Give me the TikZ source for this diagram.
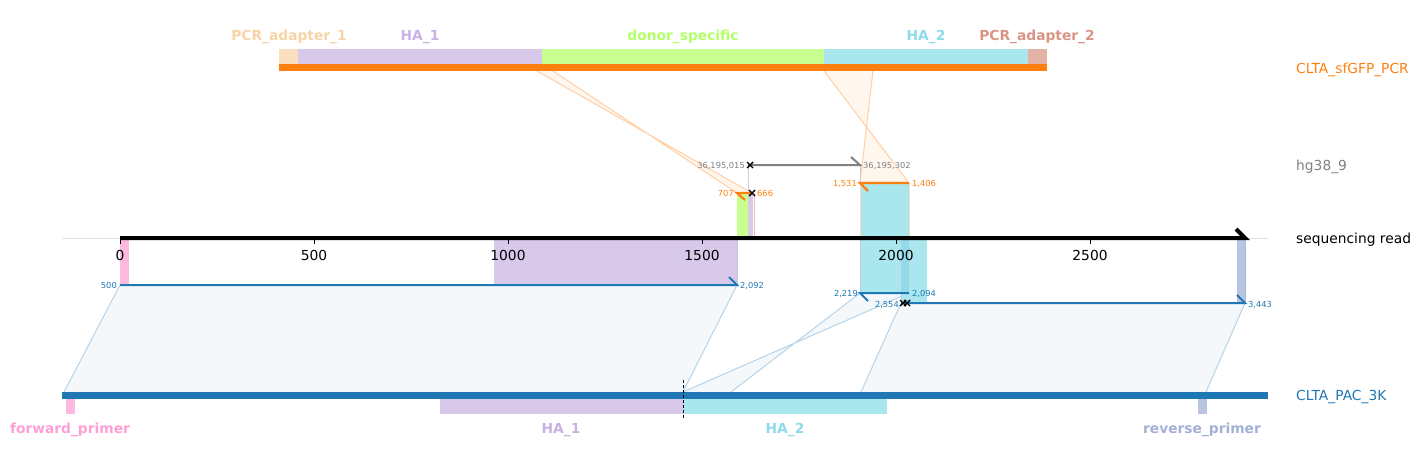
\documentclass[tikz,border=0pt]{standalone}
\usepackage{fontspec}
\setmainfont{DejaVu Sans}
\definecolor{orangeC}{HTML}{FF7F0E}
\definecolor{blueC}{HTML}{1F77B4}
\definecolor{grayC}{HTML}{808080}
\definecolor{adOneBar}{HTML}{FADFC1}
\definecolor{adOneTxt}{HTML}{F8D3A6}
\definecolor{haOneBar}{HTML}{D8C8EA}
\definecolor{haOneTxt}{HTML}{C6B2E4}
\definecolor{donBar}{HTML}{C8FF90}
\definecolor{donTxt}{HTML}{B2FF66}
\definecolor{haTwoBar}{HTML}{AAE6EE}
\definecolor{haTwoTxt}{HTML}{8CDBEB}
\definecolor{haTwoDark}{HTML}{92DAE8}
\definecolor{adTwoBar}{HTML}{E3B3A7}
\definecolor{adTwoTxt}{HTML}{D99484}
\definecolor{fwdBar}{HTML}{FFB8DE}
\definecolor{fwdTxt}{HTML}{FF9FD6}
\definecolor{revBar}{HTML}{B9C4E1}
\definecolor{revTxt}{HTML}{A3B0D6}
\begin{document}
\begin{tikzpicture}[x=1pt,y=-1pt,
  lbl/.style={font=\fontsize{13.8}{16}\selectfont, inner sep=0},
  flbl/.style={font=\fontsize{13.8}{16}\selectfont\bfseries, inner sep=0, anchor=base},
  small/.style={font=\fontsize{8.3}{10}\selectfont, inner sep=0},
  ticklbl/.style={font=\fontsize{13.8}{16}\selectfont, inner sep=0, anchor=base},
  bluepoly/.style={fill=blueC, fill opacity=0.05},
  orpoly/.style={fill=orangeC, fill opacity=0.07},
  blueedge/.style={draw=blueC, draw opacity=0.3, line width=1},
  oredge/.style={draw=orangeC, draw opacity=0.35, line width=1},
  bluealn/.style={draw=blueC, line width=2, line join=miter},
  oraln/.style={draw=orangeC, line width=2.2, line join=miter},
  xmk/.style={draw=black, line width=1.4},
]
\useasboundingbox (0,0) rectangle (1422,464);

% ---------- alignment polygons ----------
\fill[bluepoly] (120,285) -- (737,285) -- (683,392) -- (64,392) -- cycle;
\fill[bluepoly] (860,293) -- (909,293) -- (683,392) -- (731,392) -- cycle;
\fill[bluepoly] (901,303) -- (1245,303) -- (1206,392) -- (861,392) -- cycle;
\draw[blueedge] (120,285) -- (64,392) (737,285) -- (683,392)
  (860,293) -- (731,392) (909,293) -- (683,392) (901,303) -- (861,392) (1245,303) -- (1206,392);
\fill[orpoly] (537,71) -- (553,71) -- (737,193) -- (752,193) -- cycle;
\fill[orpoly] (824,71) -- (873,71) -- (860,183) -- (909,183) -- cycle;
\draw[oredge] (537,71) -- (752,193) (553,71) -- (737,193)
  (824,71) -- (909,183) (873,71) -- (860,183);

% ---------- projected feature boxes on read ----------
\fill[fwdBar] (120,238) rectangle (129,285);
\fill[haOneBar] (494,238) rectangle (737,285);
\draw[blueC!35, line width=0.8] (737,238) -- (737,285);
\fill[haTwoBar] (860,238) rectangle (909,293);
\fill[haTwoBar] (901,238) rectangle (927,303);
\fill[haTwoDark] (901,238) rectangle (909,293);
\draw[blueC!35, line width=0.8] (860,238) -- (860,293) (901,238) -- (901,303);
\fill[revBar] (1237,238) rectangle (1245,303);
\draw[blueC!45, line width=0.8] (1245,238) -- (1245,303);
\fill[donBar] (737,193) rectangle (748,238);
\fill[haOneBar] (748,193) rectangle (753,238);
\draw[red!30, line width=0.7] (754,193) -- (754,238);
\fill[haTwoBar] (860,183) rectangle (909,238);
\draw[orangeC!30, line width=0.8] (860,183) -- (860,238) (909,183) -- (909,238);

% hg38 projection lines
\draw[black!18, line width=1] (748,165) -- (748,238) (860,165) -- (860,183);

% ---------- sequencing read axis ----------
\draw[black!12, line width=0.8] (62,238) -- (1268,238);
\draw[black, line width=4, line join=miter] (120,238) -- (1245,238) -- (1236,229);
\foreach \bp/\xx in {0/120,500/314,1000/508,1500/702,2000/896,2500/1090}{
  \draw[black, line width=1] (\xx,240) -- (\xx,244);
  \node[ticklbl] (tick\bp) at (\xx,260.5) {\bp};
}
\node[lbl, anchor=base west] (readlbl) at (1296,243) {sequencing read};

% ---------- top reference: CLTA_sfGFP_PCR ----------
\fill[adOneBar] (279,49) rectangle (298,64);
\fill[haOneBar] (298,49) rectangle (542,64);
\fill[donBar] (542,49) rectangle (824,64);
\fill[haTwoBar] (824,49) rectangle (1028,64);
\fill[adTwoBar] (1028,49) rectangle (1047,64);
\fill[orangeC] (279,64) rectangle (1047,71);
\node[flbl, text=adOneTxt] (fa1) at (289,40) {PCR\_adapter\_1};
\node[flbl, text=haOneTxt] (fh1) at (420,40) {HA\_1};
\node[flbl, text=donTxt] (fds) at (683,40) {donor\_specific};
\node[flbl, text=haTwoTxt] (fh2) at (926,40) {HA\_2};
\node[flbl, text=adTwoTxt] (fa2) at (1037,40) {PCR\_adapter\_2};
\node[lbl, anchor=base west, text=orangeC] (pcrlbl) at (1296,73) {CLTA\_sfGFP\_PCR};

% ---------- orange alignments ----------
\draw[oraln] (752,193) -- (737,193) -- (745,200);
\draw[oraln] (909,183) -- (860,183) -- (868,191);
\draw[xmk] (749,190) -- (755,196) (749,196) -- (755,190);
\node[small, anchor=base east, text=orangeC] (o707) at (734,196) {707};
\node[small, anchor=base west, text=orangeC] (o666) at (757,196) {666};
\node[small, anchor=base east, text=orangeC] (o1531) at (857,186) {1,531};
\node[small, anchor=base west, text=orangeC] (o1406) at (912,186) {1,406};

% ---------- hg38 alignment ----------
\draw[grayC, line width=2, line join=miter] (748,165) -- (860,165) -- (851,157);
\draw[xmk] (747,162) -- (753,168) (747,168) -- (753,162);
\node[small, anchor=base east, text=grayC] (g1) at (745,168) {36,195,015};
\node[small, anchor=base west, text=grayC] (g2) at (863,168) {36,195,302};
\node[lbl, anchor=base west, text=grayC] (hglbl) at (1296,170) {hg38\_9};

% ---------- blue alignments ----------
\draw[bluealn] (120,285) -- (737,285) -- (729,277);
\draw[bluealn] (909,293) -- (860,293) -- (868,301);
\draw[bluealn] (901,303) -- (1245,303) -- (1237,295);
\draw[xmk] (900,300) -- (906,306) (900,306) -- (906,300) (904,300) -- (910,306) (904,306) -- (910,300);
\node[small, anchor=base east, text=blueC] (b500) at (117,288) {500};
\node[small, anchor=base west, text=blueC] (b2092) at (740,288) {2,092};
\node[small, anchor=base east, text=blueC] (b2219) at (858,296) {2,219};
\node[small, anchor=base west, text=blueC] (b2094) at (912,296) {2,094};
\node[small, anchor=base east, text=blueC] (b2554) at (899,307) {2,554};
\node[small, anchor=base west, text=blueC] (b3443) at (1248,307) {3,443};

% ---------- bottom reference: CLTA_PAC_3K ----------
\fill[blueC] (62,392) rectangle (1268,399);
\fill[fwdBar] (66,399) rectangle (75,414);
\fill[haOneBar] (440,399) rectangle (683,414);
\fill[haTwoBar] (683,399) rectangle (887,414);
\fill[revBar] (1198,399) rectangle (1207,414);
\draw[black, line width=1, dash pattern=on 3pt off 2pt] (683,380) -- (683,418);
\node[flbl, text=fwdTxt] (bfp) at (70,433) {forward\_primer};
\node[flbl, text=haOneTxt] (bh1) at (561,433) {HA\_1};
\node[flbl, text=haTwoTxt] (bh2) at (785,433) {HA\_2};
\node[flbl, text=revTxt] (brp) at (1202,433) {reverse\_primer};
\node[lbl, anchor=base west, text=blueC] (paclbl) at (1296,400) {CLTA\_PAC\_3K};
\end{tikzpicture}
\end{document}
